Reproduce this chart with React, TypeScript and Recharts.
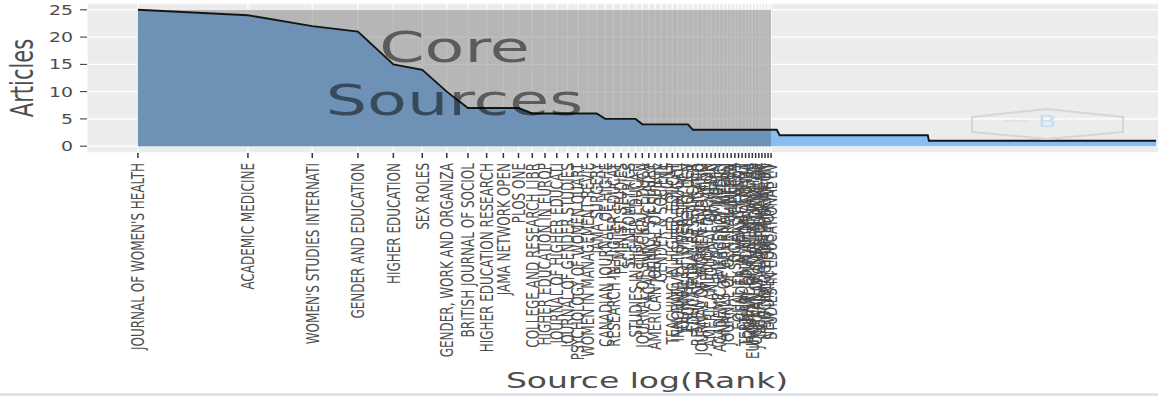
import { Area, AreaChart, CartesianGrid, Label, ReferenceArea, XAxis, YAxis } from "recharts";

// core zone sources (names cut to 25 chars, as in the plot)
const coreSources: string[] = [
  "JOURNAL OF WOMEN'S HEALTH",
  "ACADEMIC MEDICINE",
  "WOMEN'S STUDIES INTERNATI",
  "GENDER AND EDUCATION",
  "HIGHER EDUCATION",
  "SEX ROLES",
  "GENDER, WORK AND ORGANIZA",
  "BRITISH JOURNAL OF SOCIOL",
  "HIGHER EDUCATION RESEARCH",
  "JAMA NETWORK OPEN",
  "PLOS ONE",
  "COLLEGE AND RESEARCH LIBR",
  "HIGHER EDUCATION IN EUROP",
  "JOURNAL OF HIGHER EDUCATI",
  "JOURNAL OF GENDER STUDIES",
  "PSYCHOLOGY OF WOMEN QUART",
  "WOMEN IN MANAGEMENT REVIE",
  "JAMA SURGERY",
  "CANADIAN JOURNAL OF HIGHE",
  "RESEARCH IN HIGHER EDUCAT",
  "FEMINIST STUDIES",
  "SCIENTOMETRICS",
  "STUDIES IN HIGHER EDUCATI",
  "JOURNAL OF SURGICAL EDUCA",
  "ACADEMIC PSYCHIATRY",
  "AMERICAN JOURNAL OF SURGE",
  "GENDER & SOCIETY",
  "SIGNS",
  "TEACHING IN HIGHER EDUCAT",
  "INNOVATIVE HIGHER EDUCATI",
  "JOURNAL OF DIVERSITY IN H",
  "FRONTIERS IN PSYCHOLOGY",
  "EDUCATIONAL RESEARCHER",
  "REVIEW OF HIGHER EDUCATIO",
  "JOURNAL OF WOMEN AND MINO",
  "MEDICAL EDUCATION",
  "AMERICAN JOURNAL OF MEDIC",
  "BMJ OPEN",
  "ACADEMIC EMERGENCY MEDICI",
  "ANNALS OF INTERNAL MEDICI",
  "JOURNAL OF GENERAL INTERN",
  "MINERVA",
  "SOCIAL SCIENCES",
  "EQUALITY, DIVERSITY AND I",
  "GENDER IN MANAGEMENT",
  "TERTIARY EDUCATION AND MA",
  "JOURNAL OF FURTHER AND HI",
  "EUROPEAN JOURNAL OF WOMEN",
  "JOURNAL OF CAREER DEVELOP",
  "INTERNATIONAL JOURNAL OF",
  "SUSTAINABILITY",
  "SOCIOLOGY OF EDUCATION",
  "NEW DIRECTIONS FOR INSTIT",
  "STUDIES IN EDUCATIONAL EV",
];

const coreArticles: number[] = [
  25, 24, 22, 21, 15, 14, 10, 7, 7, 7, 7,
  6, 6, 6, 6, 6, 6, 6,
  5, 5, 5, 5, 5,
  4, 4, 4, 4, 4, 4, 4, 4, 4,
  3, 3, 3, 3, 3, 3, 3, 3, 3, 3, 3, 3, 3, 3, 3, 3, 3, 3, 3, 3, 3, 3,
];

// remaining sources after the core zone: how many sources have each article count
const tailRuns = [
  { articles: 3, sources: 2 },
  { articles: 2, sources: 89 },
  { articles: 1, sources: 466 },
];

const yTicks = [0, 5, 10, 15, 20, 25];

const allArticles = [...coreArticles];
tailRuns.forEach((r) => {
  for (let i = 0; i < r.sources; i++) allArticles.push(r.articles);
});

const data = allArticles.map((a, i) => ({ rank: i + 1, logRank: Math.log(i + 1), articles: a }));
const coreTicks = coreSources.map((_, i) => Math.log(i + 1));
const maxLog = Math.log(allArticles.length);
const pad = maxLog * 0.05;
const coreEnd = Math.log(coreSources.length);
const maxArticles = Math.max(...allArticles);
const splitAt = coreEnd / maxLog;

const FONT = "'DejaVu Sans', Verdana, sans-serif";
const TXT = "#4d4d4d";

function SourceTick({ x, y, index }: any) {
  return (
    <g transform={`translate(${x},${y + 3}) rotate(-90) scale(1,1.45)`}>
      <text textAnchor="end" dy="0.36em" fontSize={12} fill={TXT} fontFamily={FONT}>
        {coreSources[index]}
      </text>
    </g>
  );
}

function CountTick({ x, y, payload }: any) {
  return (
    <g transform={`translate(${x},${y}) scale(1.4,1)`}>
      <text textAnchor="end" dy="0.36em" fontSize={13.5} fill={TXT} fontFamily={FONT}>
        {payload.value}
      </text>
    </g>
  );
}

function CoreLabel({ viewBox }: any) {
  const cx = viewBox.x + viewBox.width / 2;
  const cy = viewBox.y + viewBox.height / 2;
  return (
    <g transform={`translate(${cx},${cy}) scale(1.55,1)`} fill="#000" fillOpacity={0.5} fontFamily={FONT} fontSize={42}>
      <text textAnchor="middle" y={-16}>Core</text>
      <text textAnchor="middle" y={37}>Sources</text>
    </g>
  );
}

function XTitle({ viewBox }: any) {
  const cx = viewBox.x + viewBox.width / 2;
  return (
    <g transform={`translate(${cx},${viewBox.y + viewBox.height - 5}) scale(1.5,1)`}>
      <text textAnchor="middle" fontSize={22} fill={TXT} fontFamily={FONT}>Source log(Rank)</text>
    </g>
  );
}

function YTitle({ viewBox }: any) {
  const cy = viewBox.y + viewBox.height / 2;
  return (
    <g transform={`translate(${viewBox.x + 15},${cy}) rotate(-90) scale(1,1.5)`}>
      <text textAnchor="middle" dy="0.36em" fontSize={21} fill={TXT} fontFamily={FONT}>Articles</text>
    </g>
  );
}

export default function App() {
  return (
    <div style={{ position: "absolute", left: 0, top: 0, width: 1158, height: 400, overflow: "hidden", background: "#fff" }}>
      <AreaChart width={1230} height={400} data={data} margin={{ top: 3, right: 23, bottom: 7, left: 7 }}>
        <defs>
          <linearGradient id="zoneFill" x1="0" y1="0" x2="1" y2="0">
            <stop offset={0} stopColor="#6e92b6" />
            <stop offset={splitAt} stopColor="#6e92b6" />
            <stop offset={splitAt} stopColor="#87bdf0" />
            <stop offset={1} stopColor="#87bdf0" />
          </linearGradient>
        </defs>
        <CartesianGrid fill="#ececec" stroke="#ffffff" strokeWidth={1.3} />
        <XAxis
          dataKey="logRank"
          type="number"
          domain={[-pad, maxLog + pad]}
          ticks={coreTicks}
          interval={0}
          height={240}
          axisLine={false}
          tickSize={5}
          tickLine={{ stroke: "#333", strokeWidth: 1.5 }}
          tick={<SourceTick />}
        >
          <Label content={<XTitle />} />
        </XAxis>
        <YAxis
          type="number"
          domain={[-1.25, 26.25]}
          ticks={yTicks}
          width={80}
          axisLine={false}
          tickSize={7}
          tickMargin={7}
          tickLine={{ stroke: "#333" }}
          tick={<CountTick />}
        >
          <Label content={<YTitle />} />
        </YAxis>
        <ReferenceArea x1={0} x2={coreEnd} y1={0} y2={maxArticles} fill="#7f7f7f" fillOpacity={0.5} stroke="none" />
        <Area
          type="linear"
          dataKey="articles"
          baseValue={0}
          stroke="#151515"
          strokeWidth={1.9}
          fill="url(#zoneFill)"
          fillOpacity={1}
          isAnimationActive={false}
        />
        <ReferenceArea x1={0} x2={coreEnd} y1={0} y2={maxArticles} fillOpacity={0} stroke="none" label={<CoreLabel />} />
      </AreaChart>
      <svg width={1158} height={400} style={{ position: "absolute", left: 0, top: 0, pointerEvents: "none" }}>
        <polygon
          points="972,117 1047,109 1123,117 1123,132 1047,139 972,132"
          fill="none"
          stroke="#d6d6d6"
          strokeWidth={2}
        />
        <text x={1047} y={127} textAnchor="middle" fontSize={15} fill="#c2e0f2" fontFamily={FONT} transform="translate(1047,0) scale(1.8,1) translate(-1047,0)">
          B
        </text>
        <line x1={1003} y1={121} x2={1030} y2={121} stroke="#e0e0e0" strokeWidth={1.5} />
        <rect x={0} y={393} width={1158} height={3} fill="#dde4ef" />
      </svg>
    </div>
  );
}
